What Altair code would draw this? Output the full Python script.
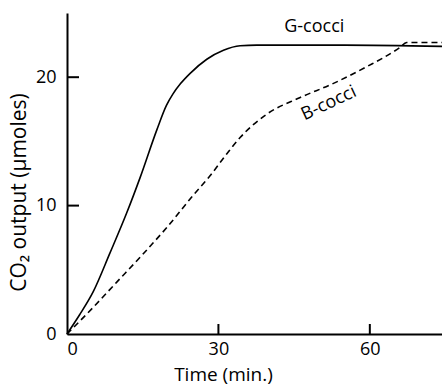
import altair as alt
import pandas as pd

# CO2 output over time for the two coccus strains
g_time = [0, 2.5, 5.2, 8.5, 11.8, 14.5, 17.8, 19.7, 21.0, 22.5, 24.4, 27.7, 31.0, 34.3, 37.6, 55, 74.3]
g_co2 = [0, 1.5, 3.3, 6.3, 9.4, 12.2, 15.9, 17.8, 18.7, 19.5, 20.3, 21.4, 22.1, 22.45, 22.5, 22.5, 22.4]

b_time = [0, 5, 10, 15, 20, 25, 28.3, 31.6, 34.3, 39.5, 46.1, 52.7, 59.3, 65.9, 67.3, 74.3]
b_co2 = [0, 2.0, 4.1, 6.2, 8.4, 10.8, 12.3, 14.0, 15.3, 17.1, 18.4, 19.5, 20.8, 22.3, 22.7, 22.7]

x_labels = [0, 30, 60]
y_labels = [0, 10, 20]
x_ticks = [30, 60]
y_ticks = [10, 20]

g_label = ["G-cocci"]
g_label_x = [49.0]
g_label_y = [23.5]
b_label = ["B-cocci"]
b_label_x = [52.3]
b_label_y = [17.6]

X_MAX = 74.3
Y_MAX = 25
W, H = 375, 321
FONT = "Open Sans"
INK = "black"

# tick lengths in pixels, turned into data units along the crossing axis
TICK_PX_X = 10
TICK_PX_Y = 12
x_tick_len = TICK_PX_X / H * Y_MAX
y_tick_len = TICK_PX_Y / W * X_MAX

g_df = pd.DataFrame({"t": g_time, "co2": g_co2})
b_df = pd.DataFrame({"t": b_time, "co2": b_co2})

x_scale = alt.Scale(domain=[0, X_MAX], nice=False)
y_scale = alt.Scale(domain=[0, Y_MAX], nice=False)

common = dict(
    grid=False, domainColor=INK, domainWidth=2, labelColor=INK, titleColor=INK,
    labelFont=FONT, titleFont=FONT, titleFontWeight="normal",
)

x_axis = alt.Axis(
    title="Time (min.)", values=x_labels, ticks=False, labelPadding=6,
    labelFontSize=18, titleFontSize=19, titleX=156, titleY=46,
    titleBaseline="alphabetic", titleAlign="center", **common,
)
y_axis = alt.Axis(
    title="CO₂ output (μmoles)", values=y_labels, ticks=False, labelPadding=11,
    labelFontSize=18, titleFontSize=21, titleX=-42, titleY=179,
    titleBaseline="alphabetic", titleAlign="center", titleAngle=270, **common,
)

g_line = alt.Chart(g_df).mark_line(
    color=INK, strokeWidth=1.6, interpolate="monotone"
).encode(
    x=alt.X("t:Q", scale=x_scale, axis=x_axis),
    y=alt.Y("co2:Q", scale=y_scale, axis=y_axis),
)

b_line = alt.Chart(b_df).mark_line(
    color=INK, strokeWidth=1.6, strokeDash=[6, 4], interpolate="monotone"
).encode(
    x=alt.X("t:Q", scale=x_scale),
    y=alt.Y("co2:Q", scale=y_scale),
)

# inward-pointing tick marks on both axes
x_tick_df = pd.DataFrame({"tx": x_ticks, "lo": 0.0, "hi": x_tick_len})
y_tick_df = pd.DataFrame({"ty": y_ticks, "lo": 0.0, "hi": y_tick_len})

x_tick_marks = alt.Chart(x_tick_df).mark_rule(color=INK, strokeWidth=2).encode(
    x=alt.X("tx:Q", scale=x_scale),
    y=alt.Y("lo:Q", scale=y_scale),
    y2="hi:Q",
)
y_tick_marks = alt.Chart(y_tick_df).mark_rule(color=INK, strokeWidth=2).encode(
    y=alt.Y("ty:Q", scale=y_scale),
    x=alt.X("lo:Q", scale=x_scale),
    x2="hi:Q",
)

g_text = alt.Chart(pd.DataFrame({
    "text": g_label, "t": g_label_x, "co2": g_label_y
})).mark_text(
    font=FONT, fontSize=18, color=INK, align="center", baseline="alphabetic"
).encode(
    x=alt.X("t:Q", scale=x_scale),
    y=alt.Y("co2:Q", scale=y_scale),
    text="text:N",
)

b_text = alt.Chart(pd.DataFrame({
    "text": b_label, "t": b_label_x, "co2": b_label_y
})).mark_text(
    font=FONT, fontSize=18, color=INK, align="center", baseline="alphabetic",
    angle=335,
).encode(
    x=alt.X("t:Q", scale=x_scale),
    y=alt.Y("co2:Q", scale=y_scale),
    text="text:N",
)

chart = alt.layer(g_line, b_line, x_tick_marks, y_tick_marks, g_text, b_text).properties(
    width=W,
    height=H,
    padding={"left": 67, "top": 13, "right": 0, "bottom": 52},
    autosize=alt.AutoSizeParams(type="none"),
    view=alt.ViewBackground(strokeWidth=0),
)

chart.save("out.html", embed_options={"renderer": "svg", "actions": False})
